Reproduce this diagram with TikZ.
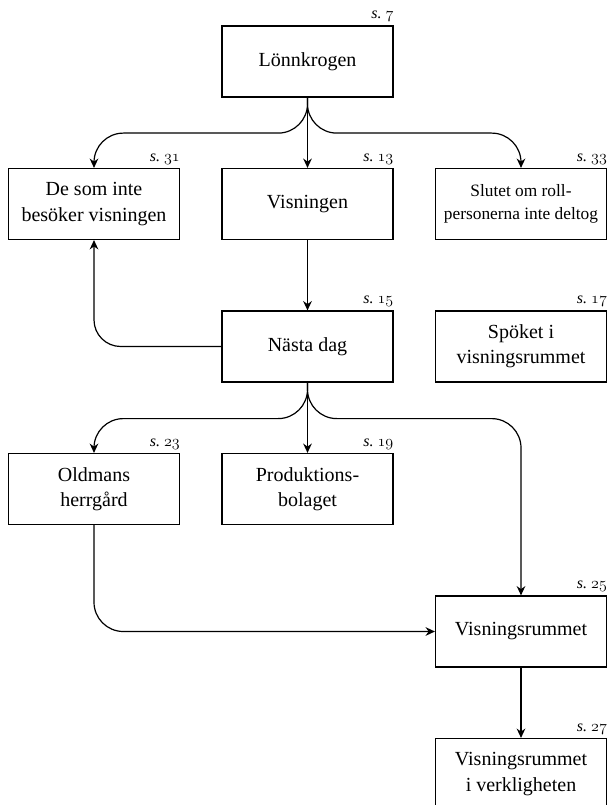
\documentclass[tikz,border=0pt]{standalone}
\usepackage{fontspec}
\setmainfont{Liberation Serif}
\usetikzlibrary{arrows.meta}
\newcommand{\osdig}[1]{{\usefont{OML}{cmm}{m}{it}#1}}
\begin{document}
\begin{tikzpicture}[x=0.75pt,y=-0.75pt,
  box/.style={draw, line width=0.9pt, minimum width=128.25pt, minimum height=53.25pt,
    align=center, inner sep=2pt, font=\fontsize{15}{19}\selectfont},
  smallbox/.style={box, font=\fontsize{13}{17.5}\selectfont},
  pg/.style={anchor=south east, inner xsep=0pt, inner ysep=2.5pt,
    font=\fontsize{12}{13}\selectfont\itshape},
  conn/.style={line width=0.9pt, -{Stealth[length=7pt,width=6.5pt]}, rounded corners=22pt},
]
\useasboundingbox (0,0) rectangle (608,805);
% boxes
\node[box] (lonn) at (307.5,61.5) {Lönnkrogen};
\node[box] (dsi)  at (94,204) {De som inte\\besöker visningen};
\node[box] (vis)  at (307.5,204) {Visningen};
\node[smallbox] (slut) at (521,204) {Slutet om roll-\\personerna inte deltog};
\node[box] (nasta) at (307.5,346.5) {Nästa dag};
\node[box] (spok)  at (521,346.5) {Spöket i\\visningsrummet};
\node[box] (old)   at (94,489) {Oldmans\\herrgård};
\node[box] (prod)  at (307.5,489) {Produktions-\\bolaget};
\node[box] (vrum)  at (521,631.5) {Visningsrummet};
\node[box] (verk)  at (521,774) {Visningsrummet\\i verkligheten};
% page labels
\node[pg] (plonn) at (lonn.north east) {s.~\osdig{7}};
\node[pg] (pdsi)  at (dsi.north east) {s.~\osdig{31}};
\node[pg] (pvis)  at (vis.north east) {s.~\osdig{13}};
\node[pg] (pslut) at (slut.north east) {s.~\osdig{33}};
\node[pg] (pnasta) at (nasta.north east) {s.~\osdig{15}};
\node[pg] (pspok) at (spok.north east) {s.~\osdig{17}};
\node[pg] (pold)  at (old.north east) {s.~\osdig{23}};
\node[pg] (pprod) at (prod.north east) {s.~\osdig{19}};
\node[pg] (pvrum) at (vrum.north east) {s.~\osdig{25}};
\node[pg] (pverk) at (verk.north east) {s.~\osdig{27}};
% connectors
\draw[conn] (lonn.south) -- (vis.north);
\draw[conn] (lonn.south) -- ++(0,35.5) -| (dsi.north);
\draw[conn] (lonn.south) -- ++(0,35.5) -| (slut.north);
\draw[conn] (vis.south) -- (nasta.north);
\draw[conn, rounded corners=20pt] (nasta.west) -| (dsi.south);
\draw[conn] (nasta.south) -- (prod.north);
\draw[conn] (nasta.south) -- ++(0,36) -| (old.north);
\draw[conn] (nasta.south) -- ++(0,36) -| (vrum.north);
\draw[conn] (old.south) |- (vrum.west);
\draw[conn] (vrum.south) -- (verk.north);
\end{tikzpicture}
\end{document}
